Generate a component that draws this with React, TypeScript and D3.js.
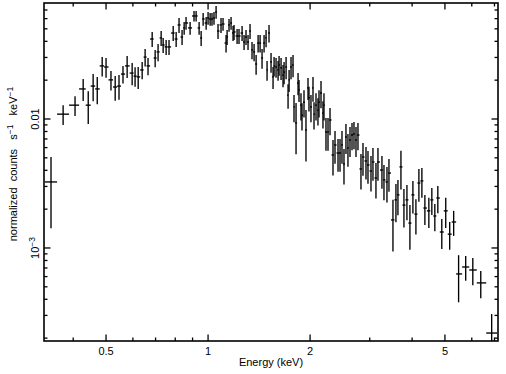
import React from 'react';
import * as d3 from 'd3';

// channel energies (keV), normalized counts and 1-sigma errors
const energy = [
  0.344, 0.3735, 0.405, 0.428, 0.443, 0.458, 0.471, 0.487, 0.5, 0.517,
  0.532, 0.546, 0.561, 0.577, 0.597, 0.609, 0.622, 0.639, 0.652, 0.665,
  0.684, 0.698, 0.712, 0.727, 0.737, 0.752, 0.767, 0.789, 0.805, 0.821,
  0.838, 0.85, 0.861, 0.885, 0.909, 0.922, 0.941, 0.954, 0.967, 0.987,
  1.0, 1.014, 1.027, 1.041, 1.056, 1.07, 1.092, 1.107, 1.13, 1.138,
  1.153, 1.169, 1.185, 1.193, 1.218, 1.234, 1.26, 1.277, 1.294, 1.312,
  1.33, 1.348, 1.367, 1.386, 1.405, 1.424, 1.443, 1.463, 1.483, 1.493,
  1.513, 1.534, 1.555, 1.566, 1.587, 1.609, 1.62, 1.642, 1.664, 1.676,
  1.699, 1.722, 1.734, 1.757, 1.781, 1.793, 1.818, 1.843, 1.855, 1.88,
  1.893, 1.919, 1.945, 1.972, 1.985, 2.012, 2.04, 2.054, 2.082, 2.11,
  2.125, 2.154, 2.183, 2.198, 2.228, 2.259, 2.29, 2.337, 2.369, 2.418,
  2.451, 2.484, 2.518, 2.552, 2.587, 2.623, 2.659, 2.695, 2.732, 2.769,
  2.826, 2.865, 2.924, 2.964, 3.025, 3.066, 3.129, 3.172, 3.259, 3.304,
  3.372, 3.418, 3.512, 3.584, 3.633, 3.708, 3.784, 3.862, 3.941, 4.022,
  4.105, 4.189, 4.275, 4.363, 4.482, 4.574, 4.668, 4.764, 4.894, 5.027,
  5.164, 5.305, 5.486, 5.757, 6.042, 6.378, 6.868,
];

const flux = [
  0.00325, 0.0109, 0.0128, 0.0171, 0.0128, 0.018, 0.0171, 0.0258, 0.0253, 0.0201,
  0.0177, 0.018, 0.0223, 0.0258, 0.0227, 0.0215, 0.0212, 0.024, 0.0302, 0.0258,
  0.0417, 0.0297, 0.0331, 0.0425, 0.0375, 0.0362, 0.0362, 0.0464, 0.0417, 0.0536,
  0.0432, 0.0508, 0.0555, 0.0508, 0.0629, 0.0629, 0.0508, 0.0425, 0.0596, 0.0555,
  0.0607, 0.0596, 0.0596, 0.0607, 0.0675, 0.0481, 0.0536, 0.0545, 0.0388, 0.0432,
  0.0536, 0.0555, 0.0464, 0.0473, 0.044, 0.044, 0.0464, 0.0395, 0.0432, 0.0395,
  0.0481, 0.0343, 0.0331, 0.0267, 0.0388, 0.0388, 0.0297, 0.0388, 0.0425, 0.024,
  0.0464, 0.0277, 0.0212, 0.0258, 0.0253, 0.024, 0.0262, 0.0249, 0.0219, 0.0231,
  0.0253, 0.0153, 0.0201, 0.0253, 0.0262, 0.0124, 0.00931, 0.019, 0.0168, 0.0128,
  0.0107, 0.0135, 0.00822, 0.0174, 0.0146, 0.0124, 0.0174, 0.0109, 0.0128, 0.0117,
  0.0135, 0.0159, 0.0111, 0.0128, 0.00793, 0.00793, 0.00982, 0.00526, 0.00629, 0.00545,
  0.00545, 0.00629, 0.00448, 0.00725, 0.00596, 0.00687, 0.00751, 0.00765, 0.00687, 0.00751,
  0.0041, 0.00507, 0.00473, 0.0044, 0.00395, 0.00464, 0.00349, 0.00464, 0.00402, 0.00337,
  0.00325, 0.00381, 0.00165, 0.00236, 0.00258, 0.00425, 0.00215, 0.00236, 0.00156, 0.00258,
  0.00183, 0.00319, 0.00331, 0.00204, 0.00194, 0.00236, 0.00177, 0.00244, 0.00133, 0.00194,
  0.00128, 0.00159, 0.000629, 0.000712, 0.000675, 0.000536, 0.000219,
];

const fluxErr = [
  0.00183, 0.0019, 0.00223, 0.00333, 0.00364, 0.0043, 0.00409, 0.00449, 0.0044, 0.0035,
  0.00384, 0.00391, 0.00343, 0.00503, 0.00443, 0.00374, 0.00413, 0.0037, 0.00465, 0.00397,
  0.00555, 0.00457, 0.0051, 0.00565, 0.00499, 0.00481, 0.00481, 0.00617, 0.00555, 0.00713,
  0.00575, 0.00574, 0.00627, 0.00574, 0.00585, 0.00585, 0.00574, 0.00565, 0.00673, 0.00627,
  0.00686, 0.00673, 0.00673, 0.00686, 0.00763, 0.0064, 0.00713, 0.00616, 0.00598, 0.00575,
  0.00606, 0.00627, 0.00617, 0.00629, 0.00585, 0.00585, 0.00617, 0.00525, 0.00575, 0.00525,
  0.0064, 0.00528, 0.0051, 0.00465, 0.00598, 0.00598, 0.00517, 0.00598, 0.00655, 0.00418,
  0.00715, 0.00482, 0.00413, 0.00449, 0.0044, 0.00418, 0.00456, 0.00486, 0.00427, 0.0045,
  0.00493, 0.00332, 0.00392, 0.00493, 0.00511, 0.00296, 0.00399, 0.00371, 0.00328, 0.00306,
  0.00256, 0.00323, 0.00353, 0.00339, 0.00317, 0.00296, 0.00378, 0.00261, 0.00306, 0.0028,
  0.00323, 0.0038, 0.00265, 0.00306, 0.00225, 0.00225, 0.00235, 0.00161, 0.00179, 0.00155,
  0.00155, 0.00179, 0.00138, 0.00189, 0.00169, 0.00179, 0.00179, 0.00183, 0.00179, 0.00179,
  0.00126, 0.00144, 0.00134, 0.00125, 0.00121, 0.00132, 0.00107, 0.00132, 0.00114, 0.00103,
  0.001, 0.00108, 0.00071, 0.00078, 0.00079, 0.00141, 0.00071, 0.00072, 0.00059, 0.00073,
  0.00056, 0.00091, 0.00086, 0.00053, 0.00051, 0.00056, 0.00042, 0.00058, 0.00035, 0.00051,
  0.00031, 0.00035, 0.00025, 0.000155, 0.000161, 0.000128, 0.0000885,
];

const xMinor = [0.4, 0.6, 0.7, 0.8, 0.9, 3, 4, 6, 7];
const xMajor = [0.5, 1, 2, 5];
const xLabels = ['0.5', '1', '2', '5'];
const yMinor = [
  2e-4, 3e-4, 4e-4, 5e-4, 6e-4, 7e-4, 8e-4, 9e-4,
  2e-3, 3e-3, 4e-3, 5e-3, 6e-3, 7e-3, 8e-3, 9e-3,
  0.02, 0.03, 0.04, 0.05, 0.06, 0.07,
];
const yMajor = [1e-3, 0.01];

const W = 506;
const H = 374;
const margin = { left: 44, right: 8, top: 3, bottom: 33 };
const font = "'Liberation Sans', Arial, sans-serif";

export default function App() {
  const x = d3.scaleLog().domain([0.328, 7.17]).range([margin.left, W - margin.right]);
  const y = d3.scaleLog().domain([1.9e-4, 0.0793]).range([H - margin.bottom, margin.top]);
  const [x0, x1] = x.range();
  const [y0, y1] = y.range();

  // bin edges: geometric midpoints between neighbouring channels
  const mids = energy.slice(1).map((e, i) => Math.sqrt(e * energy[i]));
  const n = Math.min(energy.length, flux.length, fluxErr.length);
  const lo = (i: number) => (i === 0 ? (energy[0] * energy[0]) / mids[0] : mids[i - 1]);
  const hi = (i: number) =>
    i === n - 1 ? (energy[n - 1] * energy[n - 1]) / mids[n - 2] : mids[i];

  const minY = y.domain()[0];
  const sw = 1.35;

  return (
    <svg width={W} height={H} style={{ position: 'absolute', left: 0, top: 0, background: '#fff' }}>
      <defs>
        <clipPath id="plot">
          <rect x={x0} y={y1} width={x1 - x0} height={y0 - y1} />
        </clipPath>
      </defs>
      <g clipPath="url(#plot)" stroke="#000" strokeWidth={sw}>
        {d3.range(n).map((i) => {
          const f = flux[i];
          const e = fluxErr[i];
          const down = f - e > minY ? y(f - e) : y0 + 5;
          return (
            <g key={i}>
              <line x1={x(lo(i))} x2={x(hi(i))} y1={y(f)} y2={y(f)} />
              <line x1={x(energy[i])} x2={x(energy[i])} y1={y(f + e)} y2={down} />
            </g>
          );
        })}
      </g>
      <g stroke="#000" strokeWidth={1.3}>
        {xMinor.map((t) => (
          <g key={'xm' + t}>
            <line x1={x(t)} x2={x(t)} y1={y0} y2={y0 - 3.5} />
            <line x1={x(t)} x2={x(t)} y1={y1} y2={y1 + 3.5} />
          </g>
        ))}
        {xMajor.map((t) => (
          <g key={'xM' + t}>
            <line x1={x(t)} x2={x(t)} y1={y0} y2={y0 - 6.5} />
            <line x1={x(t)} x2={x(t)} y1={y1} y2={y1 + 6.5} />
          </g>
        ))}
        {yMinor.map((t) => (
          <g key={'ym' + t}>
            <line x1={x0} x2={x0 + 3.5} y1={y(t)} y2={y(t)} />
            <line x1={x1} x2={x1 - 3.5} y1={y(t)} y2={y(t)} />
          </g>
        ))}
        {yMajor.map((t) => (
          <g key={'yM' + t}>
            <line x1={x0} x2={x0 + 6.5} y1={y(t)} y2={y(t)} />
            <line x1={x1} x2={x1 - 6.5} y1={y(t)} y2={y(t)} />
          </g>
        ))}
      </g>
      <rect x={x0} y={y1} width={x1 - x0} height={y0 - y1} fill="none" stroke="#000" strokeWidth={1.6} />
      <g fontFamily={font} fontSize={11} fill="#000">
        {xMajor.map((t, i) => (
          <text key={'xl' + t} x={x(t)} y={y0 + 14} textAnchor="middle">
            {xLabels[i]}
          </text>
        ))}
        <text x={(x0 + x1) / 2} y={H - 8} textAnchor="middle">
          Energy (keV)
        </text>
        <text transform={`translate(38.5,${y(0.01)}) rotate(-90)`} textAnchor="middle">
          0.01
        </text>
        <text transform={`translate(38.5,${y(1e-3)}) rotate(-90)`} textAnchor="middle">
          10
          <tspan dy={-4} fontSize={8.5}>
            −3
          </tspan>
        </text>
        <text
          transform={`translate(17,${(y0 + y1) / 2 - 8}) rotate(-90)`}
          textAnchor="middle"
          style={{ whiteSpace: 'pre' }}
        >
          {'normalized  counts   s'}
          <tspan dy={-4} fontSize={8.5}>
            −1
          </tspan>
          <tspan dy={4}>{'   keV'}</tspan>
          <tspan dy={-4} fontSize={8.5}>
            −1
          </tspan>
        </text>
      </g>
    </svg>
  );
}
